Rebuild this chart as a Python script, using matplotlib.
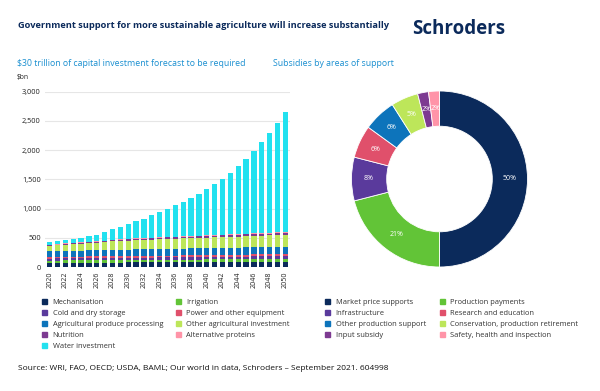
import matplotlib
matplotlib.use("Agg")
import numpy as np
import matplotlib.pyplot as plt
from matplotlib.patches import Patch

plt.rcParams['font.family'] = ['Open Sans', 'DejaVu Sans']

NAVY = "#0b2a5b"
TITLE_BLUE = "#1a8fd0"

# capital investment, $bn, by year
years = list(range(2020, 2051))
mechanisation = [70, 71, 72, 72, 73, 74, 74, 75, 76, 76, 77, 77, 78, 78, 79, 80,
                 80, 81, 81, 82, 83, 83, 84, 85, 85, 86, 87, 87, 88, 89, 90]
irrigation = [40, 40, 41, 41, 41, 42, 42, 42, 43, 43, 43, 44, 44, 44, 45, 45,
              45, 46, 46, 46, 47, 47, 47, 48, 48, 48, 49, 49, 49, 50, 50]
cold_storage = [35, 35, 36, 36, 36, 37, 37, 37, 38, 38, 38, 39, 39, 39, 40, 40,
                40, 41, 41, 41, 42, 42, 42, 43, 43, 43, 44, 44, 44, 45, 45]
power = [25, 25, 26, 26, 26, 27, 27, 27, 28, 28, 28, 29, 29, 29, 30, 30,
         30, 31, 31, 31, 32, 32, 32, 33, 33, 33, 34, 34, 34, 35, 35]
processing = [95, 97, 99, 101, 103, 105, 106, 107, 108, 109, 110, 111, 112, 113, 114, 115,
              116, 117, 118, 119, 120, 121, 122, 123, 124, 125, 126, 127, 128, 129, 130]
other_ag = [100, 105, 110, 115, 120, 126, 132, 138, 144, 150, 155, 158, 161, 164, 167, 170,
            172, 174, 176, 178, 180, 182, 184, 186, 188, 190, 192, 194, 196, 198, 200]
nutrition = [10, 11, 12, 13, 14, 15, 16, 17, 18, 19, 20, 21, 22, 23, 24, 25,
             26, 27, 28, 28, 29, 29, 30, 30, 31, 31, 32, 33, 33, 34, 35]
alt_proteins = [5, 5, 6, 6, 6, 7, 7, 7, 8, 8, 8, 9, 9, 9, 10, 10,
                10, 11, 11, 11, 12, 12, 12, 13, 13, 13, 14, 14, 14, 15, 15]
water = [47, 55, 59, 68, 82, 97, 111, 153, 181, 218, 250, 292, 331, 383, 436, 481,
         534, 582, 646, 716, 787, 864, 955, 1050, 1154, 1276, 1409, 1553, 1708, 1870, 2058]

bar_series = [
    ("Mechanisation", mechanisation, "#0b2a5b"),
    ("Irrigation", irrigation, "#62c437"),
    ("Cold and dry storage", cold_storage, "#5a3a9c"),
    ("Power and other equipment", power, "#e0506b"),
    ("Agricultural produce processing", processing, "#0d74bb"),
    ("Other agricultural investment", other_ag, "#bde65a"),
    ("Nutrition", nutrition, "#7d3a91"),
    ("Alternative proteins", alt_proteins, "#ff94a8"),
    ("Water investment", water, "#22e1ef"),
]

# subsidies by area of support, %
pie_labels = ["Market price supports", "Production payments", "Infrastructure",
              "Research and education", "Other production support",
              "Conservation, production retirement", "Input subsidy",
              "Safety, health and inspection"]
pie_values = [50, 21, 8, 6, 6, 5, 2, 2]
pie_colors = ["#0b2a5b", "#62c437", "#5a3a9c", "#e0506b", "#0d74bb",
              "#bde65a", "#7d3a91", "#ff94a8"]


def main():
    fig = plt.figure(figsize=(6, 3.91), dpi=100)

    fig.text(18 / 600, 1 - 25 / 391, "Government support for more sustainable agriculture will increase substantially",
             fontsize=6.7, fontweight="bold", color=NAVY, va="center")
    fig.text(412 / 600, 1 - 29 / 391, "Schroders", fontsize=13.5, fontweight="bold",
             color=NAVY, va="center")
    fig.text(17 / 600, 1 - 63 / 391, "$30 trillion of capital investment forecast to be required",
             fontsize=6.3, color=TITLE_BLUE, va="center")
    fig.text(273 / 600, 1 - 63 / 391, "Subsidies by areas of support",
             fontsize=6.3, color=TITLE_BLUE, va="center")
    fig.text(17 / 600, 1 - 77 / 391, "$bn", fontsize=4.8, color="#222222", va="center")

    # stacked bars
    ax = fig.add_axes([45 / 600, 1 - 267 / 391, 245 / 600, 175.5 / 391])
    bottom = [0] * len(years)
    handles = []
    for name, vals, col in bar_series:
        ax.bar(years, vals, bottom=bottom, width=0.68, color=col, zorder=3)
        bottom = [b + v for b, v in zip(bottom, vals)]
        handles.append(Patch(color=col, label=name))
    ax.set_xlim(2019.4, 2050.6)
    ax.set_ylim(0, 3000)
    ax.set_yticks(range(0, 3001, 500))
    ax.set_yticklabels([f"{v:,}" for v in range(0, 3001, 500)], fontsize=5.3, color="#222222")
    ax.set_xticks(years[::2])
    ax.set_xticklabels([str(y) for y in years[::2]], rotation=90, fontsize=5.1, color="#222222")
    ax.grid(axis="y", color="#e6e6e6", linewidth=0.8, zorder=0)
    ax.tick_params(length=0, pad=3)
    for s in ax.spines.values():
        s.set_visible(False)

    # pie / donut
    pax = fig.add_axes([351.5 / 600, 1 - 267 / 391, 176 / 600, 176 / 391])
    wedges, _ = pax.pie(pie_values, colors=pie_colors, startangle=90, counterclock=False,
                        radius=1, wedgeprops=dict(width=0.4, edgecolor="white", linewidth=0.6))
    for w, v in zip(wedges, pie_values):
        ang = np.deg2rad((w.theta1 + w.theta2) / 2)
        r = 0.8
        pax.text(r * np.cos(ang), r * np.sin(ang), f"{v}%", ha="center", va="center",
                 fontsize=5.0, color="white")
    pax.set_xlim(-1, 1)
    pax.set_ylim(-1, 1)
    pax.set_aspect("equal")
    pax.axis("off")

    # legends, one per column
    leg_kw = dict(frameon=False, fontsize=5.4, handlelength=0.7, handleheight=0.7,
                  handletextpad=0.7, labelspacing=0.5, borderpad=0, borderaxespad=0,
                  loc="upper left", labelcolor="#333333")
    fig.legend(handles=handles[0::2], bbox_to_anchor=(42 / 600, 1 - 299 / 391), **leg_kw)
    fig.legend(handles=handles[1::2], bbox_to_anchor=(176 / 600, 1 - 299 / 391), **leg_kw)
    pie_handles = [Patch(color=c, label=l) for l, c in zip(pie_labels, pie_colors)]
    fig.legend(handles=pie_handles[0::2], bbox_to_anchor=(325 / 600, 1 - 299 / 391), **leg_kw)
    fig.legend(handles=pie_handles[1::2], bbox_to_anchor=(440 / 600, 1 - 299 / 391), **leg_kw)

    fig.text(18 / 600, 1 - 368 / 391,
             "Source: WRI, FAO, OECD; USDA, BAML; Our world in data, Schroders \u2013 September 2021. 604998",
             fontsize=6.0, color="#111111", va="center")

    fig.savefig("out.png", dpi=100)


if __name__ == "__main__":
    main()
